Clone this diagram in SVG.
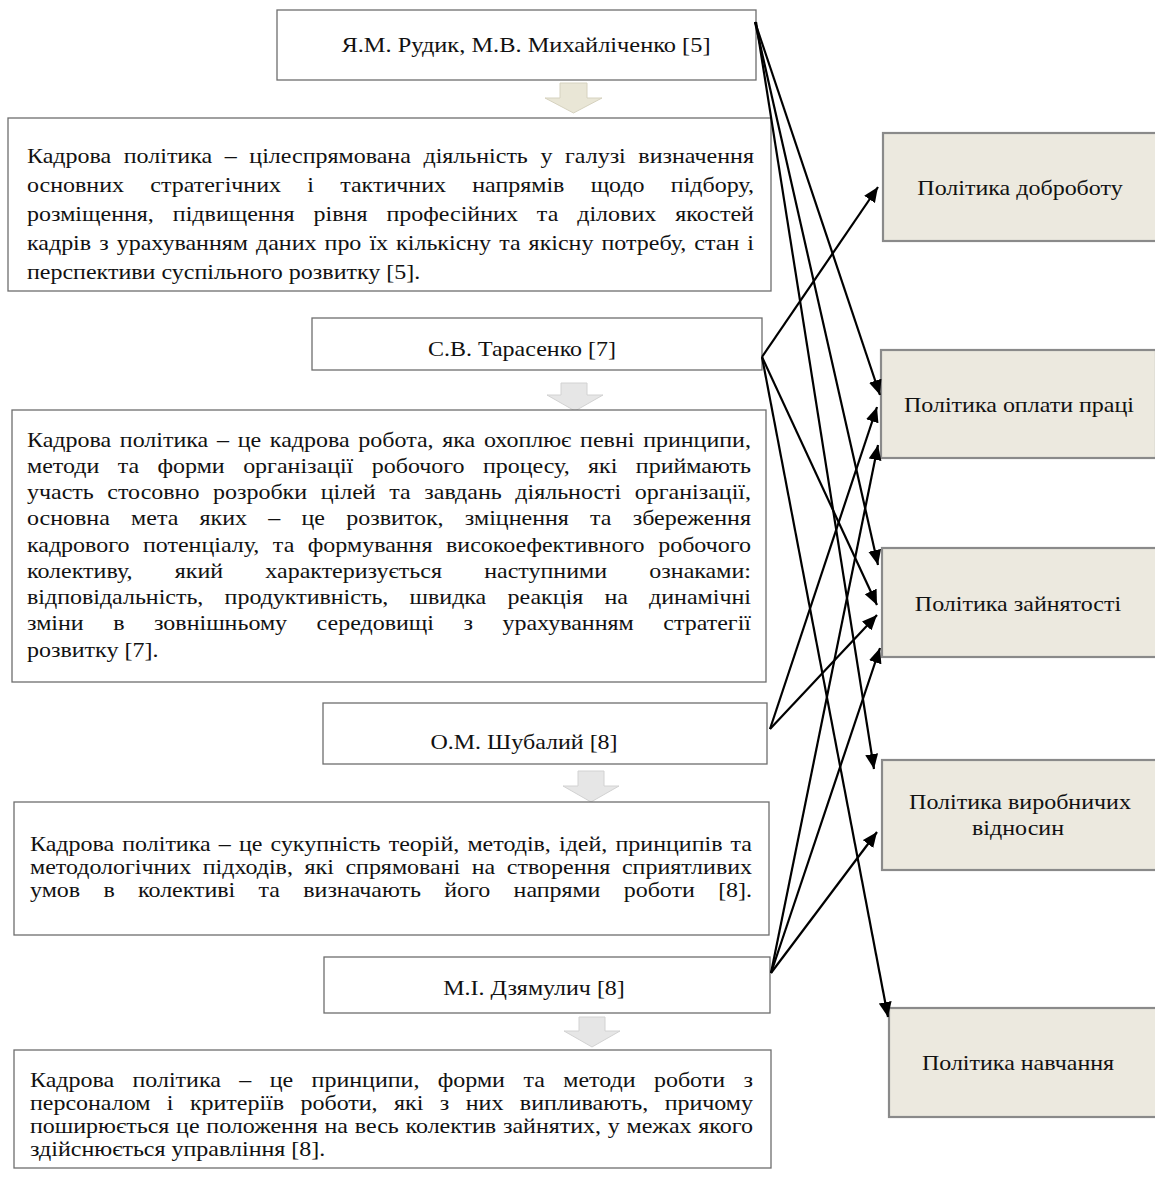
<svg xmlns="http://www.w3.org/2000/svg" width="1155" height="1187" viewBox="0 0 1155 1187">
<defs>
<marker id="ah" markerUnits="userSpaceOnUse" markerWidth="16" markerHeight="14" refX="15" refY="6.5" orient="auto">
<path d="M0,0 L15,6.5 L0,13 z" fill="#000"/>
</marker>
<style>
.src{fill:#fff;stroke:#6e6e6e;stroke-width:1.3}
.pol{fill:#ece9df;stroke:#8a8a8a;stroke-width:2.2}
.t{font-family:"Liberation Serif","Times New Roman",serif;font-size:20px;fill:#111}
.c{text-anchor:middle}
.ba1{fill:#e9e6d6;stroke:#d6d2bf;stroke-width:1}
.ba2{fill:#e6e6e6;stroke:#d2d2d2;stroke-width:1}
.cn{stroke:#000;stroke-width:2.2;fill:none;marker-end:url(#ah)}
</style>
</defs>
<rect width="1155" height="1187" fill="#fff"/>

<g id="rudyk">
<rect class="src" x="277" y="10" width="479" height="70"/>
<text class="t c" transform="translate(526,52) scale(1.22,1)">Я.М. Рудик, М.В. Михайліченко [5]</text>
</g>
<g id="arrow1"><polygon class="ba1" points="560,83 587,83 587,98 602,98 573.5,113 545,98 560,98"/></g>
<g id="def1">
<rect class="src" x="8" y="118" width="763" height="173"/>
<text class="t" transform="translate(27,162.5) scale(1.2,1)" word-spacing="5.5" textLength="605.8" lengthAdjust="spacing">Кадрова політика – цілеспрямована діяльність у галузі визначення</text>
<text class="t" transform="translate(27,191.5) scale(1.2,1)" word-spacing="16.9" textLength="605.8" lengthAdjust="spacing">основних стратегічних і тактичних напрямів щодо підбору,</text>
<text class="t" transform="translate(27,220.5) scale(1.2,1)" word-spacing="10.8" textLength="605.8" lengthAdjust="spacing">розміщення, підвищення рівня професійних та ділових якостей</text>
<text class="t" transform="translate(27,249.5) scale(1.2,1)" word-spacing="1.7" textLength="605.8" lengthAdjust="spacing">кадрів з урахуванням даних про їх кількісну та якісну потребу, стан і</text>
<text class="t" transform="translate(27,278.5) scale(1.2,1)">перспективи суспільного розвитку [5].</text>
</g>

<g id="tarasenko">
<rect class="src" x="312" y="318" width="450" height="52"/>
<text class="t c" transform="translate(522,355.5) scale(1.2,1)">С.В. Тарасенко [7]</text>
</g>
<g id="arrow2"><polygon class="ba2" points="561,383 587,383 587,395 603,395 575,411 547,395 561,395"/></g>
<g id="def2">
<rect class="src" x="12" y="410" width="754" height="272"/>
<text class="t" transform="translate(27,446.5) scale(1.2,1)" word-spacing="2.3" textLength="603.3" lengthAdjust="spacing">Кадрова політика – це кадрова робота, яка охоплює певні принципи,</text>
<text class="t" transform="translate(27,472.75) scale(1.2,1)" word-spacing="10.4" textLength="603.3" lengthAdjust="spacing">методи та форми організації робочого процесу, які приймають</text>
<text class="t" transform="translate(27,499) scale(1.2,1)" word-spacing="6.4" textLength="603.3" lengthAdjust="spacing">участь стосовно розробки цілей та завдань діяльності організації,</text>
<text class="t" transform="translate(27,525.25) scale(1.2,1)" word-spacing="12.7" textLength="603.3" lengthAdjust="spacing">основна мета яких – це розвиток, зміцнення та збереження</text>
<text class="t" transform="translate(27,551.5) scale(1.2,1)" word-spacing="6.3" textLength="603.3" lengthAdjust="spacing">кадрового потенціалу, та формування високоефективного робочого</text>
<text class="t" transform="translate(27,577.75) scale(1.2,1)" word-spacing="30.2" textLength="603.3" lengthAdjust="spacing">колективу, який характеризується наступними ознаками:</text>
<text class="t" transform="translate(27,604) scale(1.2,1)" word-spacing="12.7" textLength="603.3" lengthAdjust="spacing">відповідальність, продуктивність, швидка реакція на динамічні</text>
<text class="t" transform="translate(27,630.25) scale(1.2,1)" word-spacing="19.6" textLength="603.3" lengthAdjust="spacing">зміни в зовнішньому середовищі з урахуванням стратегії</text>
<text class="t" transform="translate(27,656.5) scale(1.2,1)">розвитку [7].</text>
</g>

<g id="shubalyi">
<rect class="src" x="323" y="703" width="444" height="61"/>
<text class="t c" transform="translate(524,748.5) scale(1.2,1)">О.М. Шубалий [8]</text>
</g>
<g id="arrow3"><polygon class="ba2" points="578,771 604,771 604,786 619,786 591,802 563,786 578,786"/></g>
<g id="def3">
<rect class="src" x="14" y="802" width="755" height="133"/>
<text class="t" transform="translate(30,850.5) scale(1.2,1)" word-spacing="1.8" textLength="601.7" lengthAdjust="spacing">Кадрова політика – це сукупність теорій, методів, ідей, принципів та</text>
<text class="t" transform="translate(30,873.8) scale(1.2,1)" word-spacing="4.7" textLength="601.7" lengthAdjust="spacing">методологічних підходів, які спрямовані на створення сприятливих</text>
<text class="t" transform="translate(30,897.1) scale(1.2,1)" word-spacing="14.5" textLength="601.7" lengthAdjust="spacing">умов в колективі та визначають його напрями роботи [8].</text>
</g>

<g id="dziamulych">
<rect class="src" x="324" y="957" width="446" height="56"/>
<text class="t c" transform="translate(534,994.5) scale(1.2,1)">М.І. Дзямулич [8]</text>
</g>
<g id="arrow4"><polygon class="ba2" points="579,1017 605,1017 605,1031 620,1031 592,1047 564,1031 579,1031"/></g>
<g id="def4">
<rect class="src" x="14" y="1050" width="757" height="118"/>
<text class="t" transform="translate(30,1086.5) scale(1.2,1)" word-spacing="10.4" textLength="602.5" lengthAdjust="spacing">Кадрова політика – це принципи, форми та методи роботи з</text>
<text class="t" transform="translate(30,1109.8) scale(1.2,1)" word-spacing="8.75" textLength="602.5" lengthAdjust="spacing">персоналом і критеріїв роботи, які з них випливають, причому</text>
<text class="t" transform="translate(30,1133.1) scale(1.2,1)" word-spacing="0.65" textLength="602.5" lengthAdjust="spacing">поширюється це положення на весь колектив зайнятих, у межах якого</text>
<text class="t" transform="translate(30,1156.4) scale(1.2,1)">здійснюється управління [8].</text>
</g>

<g id="p-dobrobut">
<rect class="pol" x="883" y="133" width="275" height="108"/>
<text class="t c" transform="translate(1020,194.5) scale(1.2,1)">Політика доброботу</text>
</g>
<g id="p-oplata">
<rect class="pol" x="881" y="350" width="275" height="108"/>
<text class="t c" transform="translate(1019,411.5) scale(1.2,1)">Політика оплати праці</text>
</g>
<g id="p-zainiatist">
<rect class="pol" x="882" y="548" width="275" height="109"/>
<text class="t c" transform="translate(1018,610.5) scale(1.2,1)">Політика зайнятості</text>
</g>
<g id="p-vyrobnychi">
<rect class="pol" x="882" y="760" width="275" height="110"/>
<text class="t c" transform="translate(1020,808.5) scale(1.2,1)">Політика виробничих</text>
<text class="t c" transform="translate(1018,834.5) scale(1.2,1)">відносин</text>
</g>
<g id="p-navchannia">
<rect class="pol" x="889" y="1008" width="270" height="109"/>
<text class="t c" transform="translate(1018,1069.5) scale(1.2,1)">Політика навчання</text>
</g>

<g id="connectors">
<line class="cn" x1="755" y1="22" x2="880" y2="395"/>
<line class="cn" x1="755" y1="22" x2="878" y2="565"/>
<line class="cn" x1="756" y1="22" x2="874" y2="769"/>
<line class="cn" x1="762" y1="357" x2="878" y2="187"/>
<line class="cn" x1="762" y1="357" x2="877" y2="605"/>
<line class="cn" x1="762" y1="357" x2="888" y2="1017"/>
<line class="cn" x1="770" y1="729" x2="877" y2="407"/>
<line class="cn" x1="770" y1="729" x2="877" y2="615"/>
<line class="cn" x1="771" y1="973" x2="878" y2="445"/>
<line class="cn" x1="771" y1="973" x2="880" y2="648"/>
<line class="cn" x1="771" y1="973" x2="877" y2="832"/>
</g>
</svg>
